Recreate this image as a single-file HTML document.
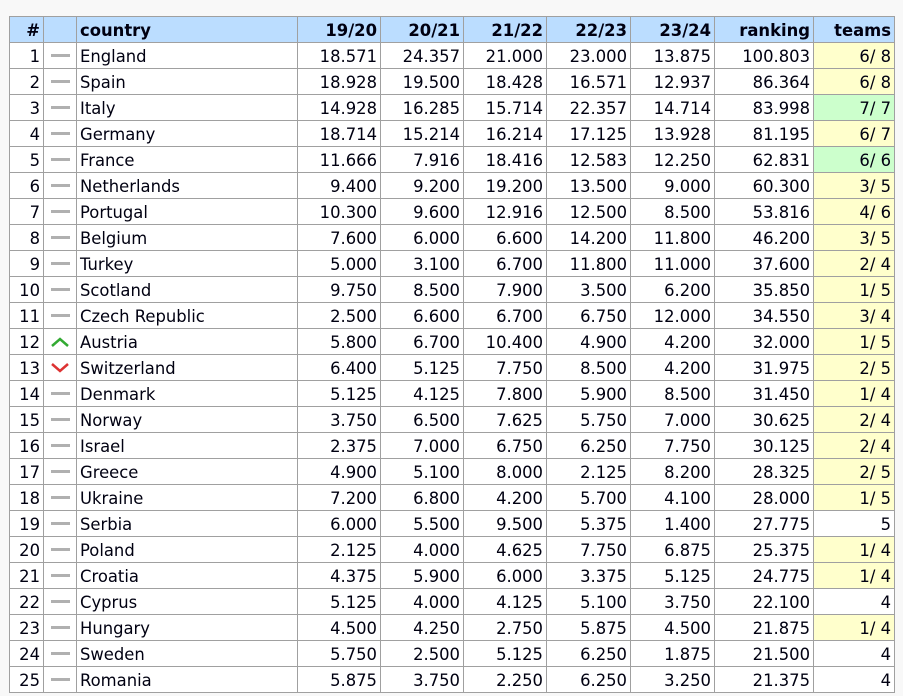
<!DOCTYPE html>
<html><head><meta charset="utf-8"><style>
body{margin:0;background:#f8f8f8;width:903px;height:696px;overflow:hidden;font-family:"DejaVu Sans",Verdana,sans-serif;}
table{position:absolute;left:9px;top:16px;border-collapse:collapse;table-layout:fixed;background:#fff;color:#001;font-size:16.4px}
td,th{border:1px solid #a0a0a0;height:22px;padding:3px 3px 0 3px;text-align:right;white-space:nowrap;overflow:hidden;line-height:22px}
th{background:#bbddff;font-weight:bold}
td.c,th.c{text-align:left;padding-left:3px}
td.a{text-align:center;padding:3px 0 0 0}
.y{background:#ffffcc}.g{background:#ccffcc}
.d{display:inline-block;width:19px;height:3px;background:#b0b0b0;vertical-align:middle;position:relative;top:-2px}
</style></head><body>
<table>
<colgroup><col style="width:34px"><col style="width:33px"><col style="width:221px"><col style="width:83px"><col style="width:83px"><col style="width:83px"><col style="width:84px"><col style="width:84px"><col style="width:99px"><col style="width:81px"></colgroup>
<tr><th>#</th><th></th><th class="c">country</th><th>19/20</th><th>20/21</th><th>21/22</th><th>22/23</th><th>23/24</th><th>ranking</th><th>teams</th></tr>
<tr><td>1</td><td class="a"><span class="d"></span></td><td class="c">England</td><td>18.571</td><td>24.357</td><td>21.000</td><td>23.000</td><td>13.875</td><td>100.803</td><td class="y">6/ 8</td></tr>
<tr><td>2</td><td class="a"><span class="d"></span></td><td class="c">Spain</td><td>18.928</td><td>19.500</td><td>18.428</td><td>16.571</td><td>12.937</td><td>86.364</td><td class="y">6/ 8</td></tr>
<tr><td>3</td><td class="a"><span class="d"></span></td><td class="c">Italy</td><td>14.928</td><td>16.285</td><td>15.714</td><td>22.357</td><td>14.714</td><td>83.998</td><td class="g">7/ 7</td></tr>
<tr><td>4</td><td class="a"><span class="d"></span></td><td class="c">Germany</td><td>18.714</td><td>15.214</td><td>16.214</td><td>17.125</td><td>13.928</td><td>81.195</td><td class="y">6/ 7</td></tr>
<tr><td>5</td><td class="a"><span class="d"></span></td><td class="c">France</td><td>11.666</td><td>7.916</td><td>18.416</td><td>12.583</td><td>12.250</td><td>62.831</td><td class="g">6/ 6</td></tr>
<tr><td>6</td><td class="a"><span class="d"></span></td><td class="c">Netherlands</td><td>9.400</td><td>9.200</td><td>19.200</td><td>13.500</td><td>9.000</td><td>60.300</td><td class="y">3/ 5</td></tr>
<tr><td>7</td><td class="a"><span class="d"></span></td><td class="c">Portugal</td><td>10.300</td><td>9.600</td><td>12.916</td><td>12.500</td><td>8.500</td><td>53.816</td><td class="y">4/ 6</td></tr>
<tr><td>8</td><td class="a"><span class="d"></span></td><td class="c">Belgium</td><td>7.600</td><td>6.000</td><td>6.600</td><td>14.200</td><td>11.800</td><td>46.200</td><td class="y">3/ 5</td></tr>
<tr><td>9</td><td class="a"><span class="d"></span></td><td class="c">Turkey</td><td>5.000</td><td>3.100</td><td>6.700</td><td>11.800</td><td>11.000</td><td>37.600</td><td class="y">2/ 4</td></tr>
<tr><td>10</td><td class="a"><span class="d"></span></td><td class="c">Scotland</td><td>9.750</td><td>8.500</td><td>7.900</td><td>3.500</td><td>6.200</td><td>35.850</td><td class="y">1/ 5</td></tr>
<tr><td>11</td><td class="a"><span class="d"></span></td><td class="c">Czech Republic</td><td>2.500</td><td>6.600</td><td>6.700</td><td>6.750</td><td>12.000</td><td>34.550</td><td class="y">3/ 4</td></tr>
<tr><td>12</td><td class="a"><svg width="20" height="12" style="vertical-align:middle;position:relative;top:-2px"><polyline points="2,10 10,3 18,10" fill="none" stroke="#3a3" stroke-width="2.5"/></svg></td><td class="c">Austria</td><td>5.800</td><td>6.700</td><td>10.400</td><td>4.900</td><td>4.200</td><td>32.000</td><td class="y">1/ 5</td></tr>
<tr><td>13</td><td class="a"><svg width="20" height="12" style="vertical-align:middle;position:relative;top:-2px"><polyline points="2,2 10,9 18,2" fill="none" stroke="#d33" stroke-width="2.5"/></svg></td><td class="c">Switzerland</td><td>6.400</td><td>5.125</td><td>7.750</td><td>8.500</td><td>4.200</td><td>31.975</td><td class="y">2/ 5</td></tr>
<tr><td>14</td><td class="a"><span class="d"></span></td><td class="c">Denmark</td><td>5.125</td><td>4.125</td><td>7.800</td><td>5.900</td><td>8.500</td><td>31.450</td><td class="y">1/ 4</td></tr>
<tr><td>15</td><td class="a"><span class="d"></span></td><td class="c">Norway</td><td>3.750</td><td>6.500</td><td>7.625</td><td>5.750</td><td>7.000</td><td>30.625</td><td class="y">2/ 4</td></tr>
<tr><td>16</td><td class="a"><span class="d"></span></td><td class="c">Israel</td><td>2.375</td><td>7.000</td><td>6.750</td><td>6.250</td><td>7.750</td><td>30.125</td><td class="y">2/ 4</td></tr>
<tr><td>17</td><td class="a"><span class="d"></span></td><td class="c">Greece</td><td>4.900</td><td>5.100</td><td>8.000</td><td>2.125</td><td>8.200</td><td>28.325</td><td class="y">2/ 5</td></tr>
<tr><td>18</td><td class="a"><span class="d"></span></td><td class="c">Ukraine</td><td>7.200</td><td>6.800</td><td>4.200</td><td>5.700</td><td>4.100</td><td>28.000</td><td class="y">1/ 5</td></tr>
<tr><td>19</td><td class="a"><span class="d"></span></td><td class="c">Serbia</td><td>6.000</td><td>5.500</td><td>9.500</td><td>5.375</td><td>1.400</td><td>27.775</td><td>5</td></tr>
<tr><td>20</td><td class="a"><span class="d"></span></td><td class="c">Poland</td><td>2.125</td><td>4.000</td><td>4.625</td><td>7.750</td><td>6.875</td><td>25.375</td><td class="y">1/ 4</td></tr>
<tr><td>21</td><td class="a"><span class="d"></span></td><td class="c">Croatia</td><td>4.375</td><td>5.900</td><td>6.000</td><td>3.375</td><td>5.125</td><td>24.775</td><td class="y">1/ 4</td></tr>
<tr><td>22</td><td class="a"><span class="d"></span></td><td class="c">Cyprus</td><td>5.125</td><td>4.000</td><td>4.125</td><td>5.100</td><td>3.750</td><td>22.100</td><td>4</td></tr>
<tr><td>23</td><td class="a"><span class="d"></span></td><td class="c">Hungary</td><td>4.500</td><td>4.250</td><td>2.750</td><td>5.875</td><td>4.500</td><td>21.875</td><td class="y">1/ 4</td></tr>
<tr><td>24</td><td class="a"><span class="d"></span></td><td class="c">Sweden</td><td>5.750</td><td>2.500</td><td>5.125</td><td>6.250</td><td>1.875</td><td>21.500</td><td>4</td></tr>
<tr><td>25</td><td class="a"><span class="d"></span></td><td class="c">Romania</td><td>5.875</td><td>3.750</td><td>2.250</td><td>6.250</td><td>3.250</td><td>21.375</td><td>4</td></tr>
</table>
</body></html>
